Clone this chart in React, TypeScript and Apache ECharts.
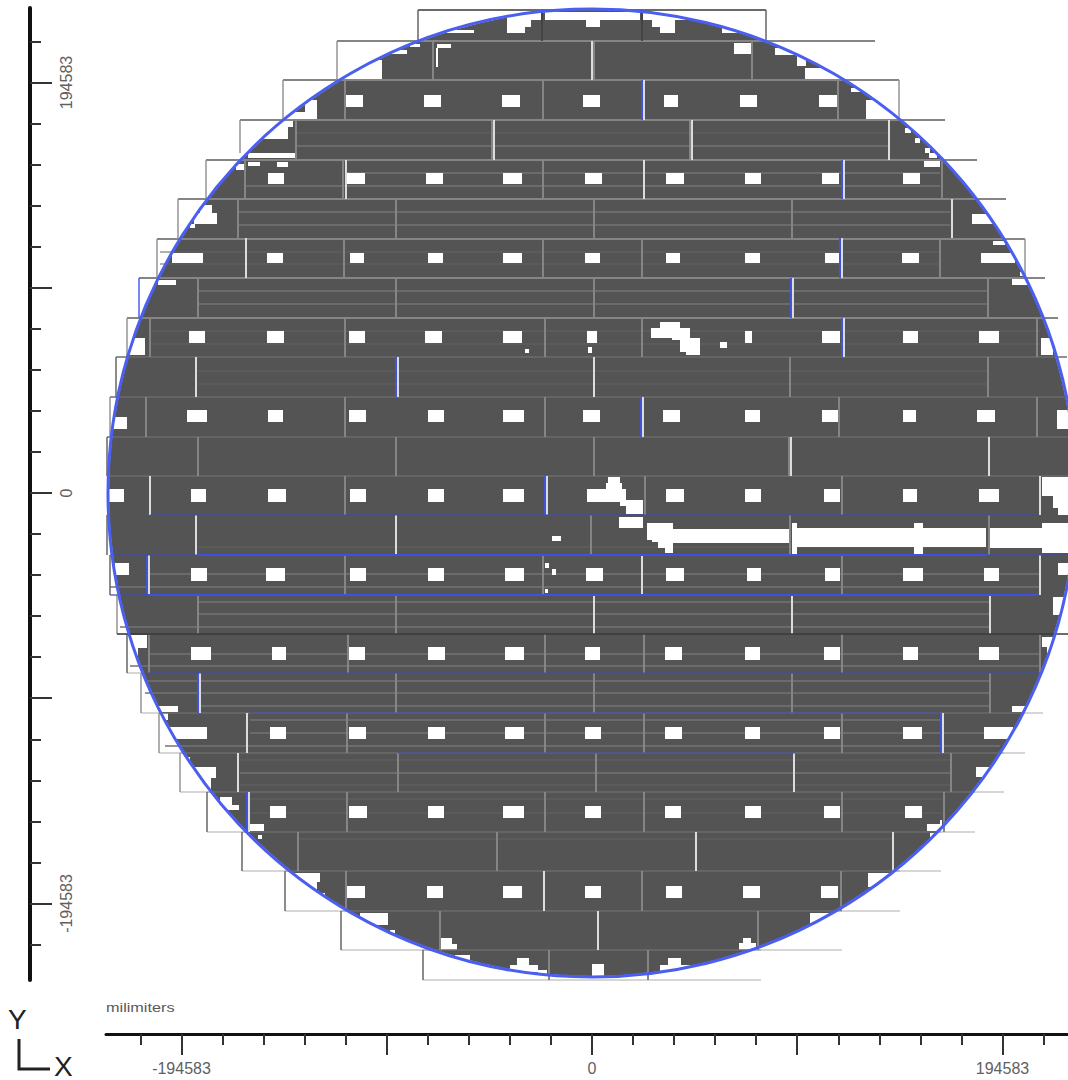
import React, { useEffect, useRef } from "react";
import * as echarts from "echarts";

// Wafer map. Everything below is in raster cells of the map:
// column / line, converted to wafer coordinates by the scan origin and pitch.
const SCAN_ORIGIN_COL = 592;
const SCAN_ORIGIN_LINE = 493;
const SCAN_PITCH = 474.02;
const WAFER_RADIUS_CELLS = 484;

const MINOR_TICKS = [19458.3, 38916.6, 58374.9, 77833.2, 116749.8, 136208.1, 155666.4, 175124.7, 214041.3];
const MAJOR_TICKS = [97291.5, 194583, 0, -97291.5, -194583];
const LABEL_TICKS = [-194583, 0, 194583];

// Unprinted cells per line band: [line0, line1, col0, col1, col0, col1, ...]
const HOLE_BANDS = [
  [95, 107, 345, 363, 424, 441, 502, 520, 583, 600, 664, 678, 740, 757, 819, 837],
  [173, 184, 268, 284, 347, 365, 426, 443, 503, 522, 585, 602, 666, 684, 745, 761, 822, 839, 903, 920],
  [253, 263, 172, 203, 267, 283, 350, 364, 428, 443, 503, 522, 585, 600, 666, 680, 745, 760, 825, 840, 902, 919, 981, 1015],
  [331, 343, 189, 205, 267, 284, 349, 365, 425, 442, 503, 522, 587, 597, 745, 752, 822, 840, 903, 918, 979, 999],
  [410, 422, 187, 207, 268, 283, 349, 366, 428, 444, 503, 524, 583, 600, 663, 680, 745, 760, 822, 840, 903, 916, 977, 995],
  [489, 502, 109, 124, 191, 206, 268, 286, 350, 366, 428, 444, 503, 524, 587, 606, 666, 684, 745, 761, 824, 840, 903, 917, 979, 999],
  [568, 581, 191, 207, 266, 285, 350, 366, 428, 444, 505, 524, 586, 603, 666, 684, 747, 761, 825, 840, 903, 923, 984, 999],
  [647, 660, 191, 211, 272, 286, 348, 365, 428, 445, 505, 524, 585, 600, 665, 682, 745, 760, 824, 840, 903, 918, 979, 999],
  [727, 739, 168, 207, 270, 286, 349, 366, 428, 445, 505, 524, 585, 601, 665, 682, 745, 760, 824, 840, 903, 922, 984, 1013],
  [806, 818, 270, 286, 349, 367, 428, 444, 503, 524, 585, 601, 665, 681, 745, 761, 824, 840, 905, 922],
  [886, 898, 347, 365, 427, 443, 503, 522, 585, 601, 666, 682, 743, 760, 821, 838],
];

// Other unprinted areas: [col0, line0, col1, line1]
const DEFECTS = [
  [507, 12, 525, 33], [525, 12, 531, 27], [531, 12, 541, 20], [545, 12, 590, 20], [586, 20, 600, 27],
  [590, 12, 640, 20], [642, 12, 652, 20], [652, 12, 660, 27], [660, 12, 675, 33], [675, 12, 700, 20],
  [722, 28, 737, 33], [447, 30, 474, 33],
  [390, 50, 407, 54], [410, 44, 420, 47], [437, 44, 451, 48], [436, 48, 438, 67],
  [734, 43, 751, 54], [775, 48, 794, 55], [797, 56, 806, 66], [805, 68, 850, 80], [335, 60, 382, 80],
  [284, 112, 317, 120], [305, 100, 317, 112], [866, 100, 905, 120], [851, 88, 862, 92],
  [260, 120, 293, 127], [255, 127, 288, 139], [248, 153, 296, 158], [905, 128, 911, 133], [915, 138, 920, 143],
  [925, 148, 930, 153], [929, 153, 937, 158],
  [248, 162, 260, 166], [277, 162, 288, 167], [236, 164, 244, 170], [924, 161, 940, 167],
  [200, 205, 212, 213], [194, 213, 217, 224], [190, 224, 195, 228], [972, 214, 995, 224],
  [993, 241, 1005, 245], [1020, 272, 1025, 276],
  [158, 280, 176, 285], [1012, 279, 1028, 285],
  [130, 338, 145, 355], [1041, 338, 1053, 355],
  [651, 328, 672, 338], [660, 322, 680, 328], [672, 328, 690, 340], [680, 338, 700, 352], [686, 345, 700, 355],
  [720, 342, 727, 348], [525, 349, 529, 353], [588, 347, 592, 353],
  [113, 417, 127, 429], [1057, 410, 1068, 429],
  [606, 483, 622, 502], [608, 477, 620, 483], [620, 489, 626, 506], [626, 500, 643, 514],
  [1042, 477, 1068, 496], [1053, 496, 1068, 508], [1058, 508, 1068, 515],
  [619, 517, 643, 528], [647, 523, 673, 540], [652, 540, 673, 542], [658, 542, 673, 548], [665, 548, 673, 553],
  [673, 529, 790, 543], [792, 523, 797, 554], [797, 528, 986, 547], [914, 523, 923, 554],
  [990, 528, 1068, 548], [1042, 523, 1068, 553], [552, 536, 561, 541],
  [115, 563, 129, 575], [1058, 563, 1068, 575], [545, 563, 549, 568], [552, 569, 556, 575], [545, 589, 548, 593],
  [1053, 597, 1068, 615],
  [125, 635, 147, 648], [125, 648, 138, 658], [1042, 637, 1060, 647], [1047, 647, 1060, 663],
  [158, 706, 178, 712], [1012, 706, 1025, 712],
  [163, 713, 168, 720], [190, 767, 216, 778], [200, 778, 211, 790], [185, 757, 190, 763], [976, 767, 990, 777],
  [220, 797, 232, 805], [220, 805, 239, 810], [248, 824, 264, 831], [232, 825, 242, 831],
  [927, 824, 942, 831], [940, 820, 942, 824],
  [258, 835, 262, 839], [930, 833, 937, 837],
  [293, 873, 320, 882], [300, 882, 317, 890], [320, 893, 325, 898], [868, 873, 895, 887],
  [360, 913, 388, 925], [390, 930, 395, 933], [440, 938, 452, 950], [452, 944, 457, 950],
  [810, 913, 833, 926], [739, 943, 756, 950], [743, 938, 751, 943],
  [517, 958, 529, 965], [510, 965, 538, 972], [538, 970, 547, 975], [592, 964, 604, 976],
  [668, 958, 681, 965], [660, 965, 700, 972], [455, 955, 470, 960],
];

// Reticle cuts per row: [line0, line1, col, col, ...]
const GREY_CUTS = [
  [41, 80, 433, 594, 752],
  [80, 120, 345, 543, 838],
  [120, 160, 296, 492, 690],
  [160, 199, 343, 245, 543, 942],
  [199, 238, 238, 396, 594, 792],
  [238, 278, 344, 543, 642, 940],
  [278, 318, 198, 396, 594, 988],
  [318, 357, 150, 345, 545, 642, 1037],
  [357, 397, 790, 988],
  [397, 437, 146, 345, 545, 839, 1037],
  [437, 476, 198, 396, 594, 789],
  [476, 515, 345, 645, 842],
  [515, 555, 591, 790, 989],
  [555, 595, 345, 543, 842],
  [595, 634, 198, 396],
  [634, 673, 149, 348, 545, 644, 842, 1040],
  [673, 713, 396, 594, 792, 990],
  [713, 753, 347, 545, 644, 842],
  [753, 792, 398, 596, 951],
  [792, 832, 347, 545, 644, 842, 944],
  [832, 871, 298, 497],
  [871, 911, 346, 642, 841],
  [911, 950, 440, 758],
  [950, 980, 549, 648],
];
const WHITE_CUTS = [
  [41, 80, 592],
  [80, 120, 644],
  [120, 160, 494, 692, 889],
  [160, 199, 346, 644, 844],
  [199, 238, 952],
  [238, 278, 246, 842],
  [278, 318, 793],
  [318, 357, 844],
  [357, 397, 196, 398, 594],
  [397, 437, 643],
  [437, 476, 791, 989],
  [476, 515, 150, 547, 1040],
  [515, 555, 196, 396],
  [555, 595, 149, 642, 1040],
  [595, 634, 594, 792, 990],
  [673, 713, 200],
  [713, 753, 247, 943],
  [753, 792, 238, 794],
  [792, 832, 249],
  [832, 871, 696, 893],
  [871, 911, 544],
  [911, 950, 598],
];
const BLUE_CUTS = [
  [80, 120, 642],
  [160, 199, 842],
  [238, 278, 840],
  [278, 318, 791],
  [318, 357, 842],
  [357, 397, 396],
  [397, 437, 641],
  [476, 515, 545],
  [555, 595, 147],
  [673, 713, 198],
  [713, 753, 941],
  [792, 832, 247],
];
const DARK_CUTS = [[10, 41, 542, 642]];

// Exposure-field outlines
const FIELD_TOPS = [
  [41, 337, 875], [80, 283, 899], [120, 240, 945], [160, 206, 977], [199, 178, 1006],
  [239, 157, 1025], [278, 139, 1045], [318, 127, 1058],
];
const FIELD_TOP_DARK = [[10, 418, 766]];
const FIELD_SOFT_TOPS = [
  [357, 116, 1067], [397, 110, 1068], [437, 107, 1068], [476, 107, 1068], [713, 159, 1025], [753, 180, 1004],
  [792, 207, 975], [832, 242, 941], [871, 285, 900], [911, 341, 842], [950, 423, 761],
];
const FIELD_BOTTOMS = [
  [595, 110, 119], [634, 117, 129], [673, 127, 143], [713, 141, 161], [753, 159, 185], [792, 180, 212],
  [832, 207, 247], [871, 242, 290], [911, 285, 348], [950, 341, 433], [980, 423, 761],
  [713, 1023, 1043], [753, 999, 1025], [792, 972, 1004], [832, 937, 975], [871, 894, 941], [911, 836, 900], [950, 751, 842],
];
const FIELD_GREY_SIDES = [
  [80, 120, 283, 899], [120, 153, 240], [160, 199, 206], [199, 239, 178], [239, 278, 157, 1025], [318, 357, 127],
  [397, 437, 110], [595, 634, 117], [673, 713, 141], [713, 753, 159], [753, 792, 180], [41, 80, 337],
];
const FIELD_DARK_SIDES = [
  [10, 41, 418, 766], [357, 397, 116], [437, 476, 107], [515, 555, 107], [555, 595, 110], [634, 673, 127],
  [792, 832, 207], [832, 871, 242], [871, 911, 285], [911, 950, 341], [950, 980, 423],
];
const FIELD_BLUE_SIDES = [[278, 318, 139]];

// Scan lines inside the fields: [line, col0, col1]
const STRONG_STRIPES = [
  [146, 296, 889], [173, 346, 940], [186, 245, 940], [212, 238, 950], [225, 238, 950], [291, 198, 988], [304, 198, 988],
  [574, 150, 1040], [587, 110, 1040], [602, 198, 990], [614, 198, 990], [627, 120, 990], [654, 150, 1040], [666, 130, 1040],
  [681, 145, 990], [693, 145, 990], [706, 198, 990], [720, 250, 940], [733, 250, 1000], [746, 165, 1000], [773, 240, 950],
];
const FAINT_STRIPES = [
  [133, 296, 889], [252, 160, 940], [264, 160, 940], [331, 150, 1040], [344, 150, 1040], [371, 198, 988], [384, 198, 988],
  [547, 198, 990], [760, 240, 950], [785, 240, 950], [799, 250, 942], [813, 250, 942], [839, 298, 893],
];
const BLUE_ROWS_STRONG = [[595, 148, 1038], [555, 198, 987]];
const BLUE_ROWS_THIN = [
  [515, 150, 1038], [555, 110, 198], [555, 987, 1068], [595, 110, 148], [673, 147, 1040], [713, 250, 940], [753, 398, 795],
];
const DARK_ROWS = [[634, 117, 1068]];

const wx = (c: number) => (c - SCAN_ORIGIN_COL) * SCAN_PITCH;
const wy = (l: number) => (SCAN_ORIGIN_LINE - l) * SCAN_PITCH;

const holes = HOLE_BANDS.flatMap((b) => {
  const out: number[][] = [];
  for (let i = 2; i < b.length; i += 2) out.push([b[i], b[0], b[i + 1], b[1]]);
  return out;
});
const verticals = (rows: number[][]) =>
  rows.flatMap((r) => r.slice(2).map((c) => [c, r[0], c, r[1]]));
const horizontals = (rows: number[][]) => rows.map((r) => [r[1], r[0], r[2], r[0]]);
const toWafer = (rows: number[][]) => rows.map((r) => [wx(r[0]), wy(r[1]), wx(r[2]), wy(r[3])]);

const rectSeries = (rows: number[][], fill: string, z: number) => ({
  type: "custom",
  coordinateSystem: "cartesian2d",
  silent: true,
  z,
  clip: false,
  data: toWafer(rows),
  renderItem: (_p: any, api: any) => {
    const a = api.coord([api.value(0), api.value(1)]);
    const b = api.coord([api.value(2), api.value(3)]);
    return { type: "rect", shape: { x: a[0], y: a[1], width: b[0] - a[0], height: b[1] - a[1] }, style: { fill } };
  },
});
const lineSeries = (rows: number[][], stroke: string, lineWidth: number, z: number) => ({
  type: "custom",
  coordinateSystem: "cartesian2d",
  silent: true,
  z,
  clip: false,
  data: toWafer(rows),
  renderItem: (_p: any, api: any) => {
    const a = api.coord([api.value(0), api.value(1)]);
    const b = api.coord([api.value(2), api.value(3)]);
    return { type: "line", shape: { x1: a[0], y1: a[1], x2: b[0], y2: b[1] }, style: { stroke, lineWidth, fill: "none" } };
  },
});
const waferSeries = (style: any, radiusCells: number, z: number) => ({
  type: "custom",
  coordinateSystem: "cartesian2d",
  silent: true,
  z,
  clip: false,
  data: [[0, 0, radiusCells * SCAN_PITCH]],
  renderItem: (_p: any, api: any) => {
    const c = api.coord([api.value(0), api.value(1)]);
    const r = api.size([api.value(2), 0])[0];
    return { type: "circle", shape: { cx: c[0], cy: c[1], r }, style };
  },
});

const AXIS_FONT = { fontFamily: "Liberation Sans", fontSize: 16, color: "#5f5f5f" };
const MINOR_ALL = [...MINOR_TICKS, ...MINOR_TICKS.map((v) => -v)];
const X_RANGE = { min: wx(106), max: wx(1068) };
const Y_RANGE = { min: wy(980), max: wy(8) };

export default function App() {
  const ref = useRef<HTMLDivElement>(null);
  useEffect(() => {
    const chart = echarts.init(ref.current!, undefined, { renderer: "svg" });
    chart.setOption({
      animation: false,
      backgroundColor: "#ffffff",
      grid: { left: 106, top: 8, width: 962, height: 972, containLabel: false },
      xAxis: [
        {
          type: "value", ...X_RANGE, position: "bottom", offset: 54, splitLine: { show: false },
          axisLine: { show: true, onZero: false, lineStyle: { color: "#111", width: 3 } },
          axisTick: { show: true, customValues: MINOR_ALL, length: 11, lineStyle: { color: "#333", width: 2 } },
          axisLabel: { show: false },
        },
        {
          type: "value", ...X_RANGE, position: "bottom", offset: 54, splitLine: { show: false },
          axisLine: { show: false, onZero: false },
          axisTick: { show: true, customValues: MAJOR_TICKS, length: 21, lineStyle: { color: "#333", width: 2 } },
          axisLabel: { show: true, customValues: LABEL_TICKS, margin: 26, formatter: (v: number) => String(v), ...AXIS_FONT },
        },
      ],
      yAxis: [
        {
          type: "value", ...Y_RANGE, position: "left", offset: 76, splitLine: { show: false },
          axisLine: { show: true, onZero: false, lineStyle: { color: "#111", width: 4 } },
          axisTick: { show: true, inside: true, customValues: MINOR_ALL, length: 11, lineStyle: { color: "#333", width: 2 } },
          axisLabel: { show: false },
        },
        {
          type: "value", ...Y_RANGE, position: "left", offset: 76, splitLine: { show: false },
          axisLine: { show: false, onZero: false },
          axisTick: { show: true, inside: true, customValues: MAJOR_TICKS, length: 22, lineStyle: { color: "#333", width: 2 } },
          axisLabel: { show: true, inside: true, rotate: 90, customValues: LABEL_TICKS, margin: 28, formatter: (v: number) => String(v), ...AXIS_FONT },
        },
      ],
      series: [
        waferSeries({ fill: "#545454" }, WAFER_RADIUS_CELLS - 1, 1),
        lineSeries(horizontals(FAINT_STRIPES), "#636363", 1, 2),
        lineSeries(horizontals(STRONG_STRIPES), "#737373", 1.5, 2),
        rectSeries(holes, "#ffffff", 3),
        rectSeries(DEFECTS, "#ffffff", 3),
        lineSeries(horizontals(FIELD_SOFT_TOPS), "#6b6b6b", 1.5, 4),
        lineSeries(horizontals(FIELD_TOPS), "#858585", 2, 4),
        lineSeries(horizontals(FIELD_TOP_DARK), "#6a6a6a", 2, 4),
        lineSeries(horizontals(FIELD_BOTTOMS), "#c8c8c8", 1.5, 4),
        lineSeries(verticals(FIELD_GREY_SIDES), "#959595", 1.5, 4),
        lineSeries(verticals(FIELD_DARK_SIDES), "#666666", 1.5, 4),
        lineSeries(verticals(FIELD_BLUE_SIDES), "#4a5ff0", 1.5, 4),
        lineSeries(verticals(GREY_CUTS), "#858585", 2, 5),
        lineSeries(verticals(WHITE_CUTS), "#dcdcdc", 2, 5),
        lineSeries(verticals(DARK_CUTS), "#444444", 2, 5),
        lineSeries(verticals(BLUE_CUTS), "#4254de", 2, 5),
        lineSeries(horizontals(BLUE_ROWS_THIN), "#3c4ab8", 1, 6),
        lineSeries(horizontals(BLUE_ROWS_STRONG), "#3f51e0", 2, 6),
        lineSeries(horizontals(DARK_ROWS), "#3a3a3a", 1.5, 6),
        waferSeries({ fill: "none", stroke: "#4a5ff0", lineWidth: 3 }, WAFER_RADIUS_CELLS, 7),
      ],
      graphic: [
        { type: "text", x: 106, y: 1001, scaleX: 1.25, style: { text: "milimiters", fontFamily: "Liberation Sans", fontSize: 13, fill: "#5a5a5a" } },
        { type: "text", x: 8, y: 1005, style: { text: "Y", fontFamily: "Liberation Sans", fontSize: 28, fill: "#222" } },
        { type: "text", x: 54, y: 1052, style: { text: "X", fontFamily: "Liberation Sans", fontSize: 28, fill: "#222" } },
        { type: "polyline", shape: { points: [[19, 1039], [19, 1069], [50, 1069]] }, style: { stroke: "#222", lineWidth: 3, fill: "none" } },
      ],
    });
    return () => chart.dispose();
  }, []);
  return <div ref={ref} style={{ position: "absolute", left: 0, top: 0, width: 1068, height: 1080 }} />;
}
